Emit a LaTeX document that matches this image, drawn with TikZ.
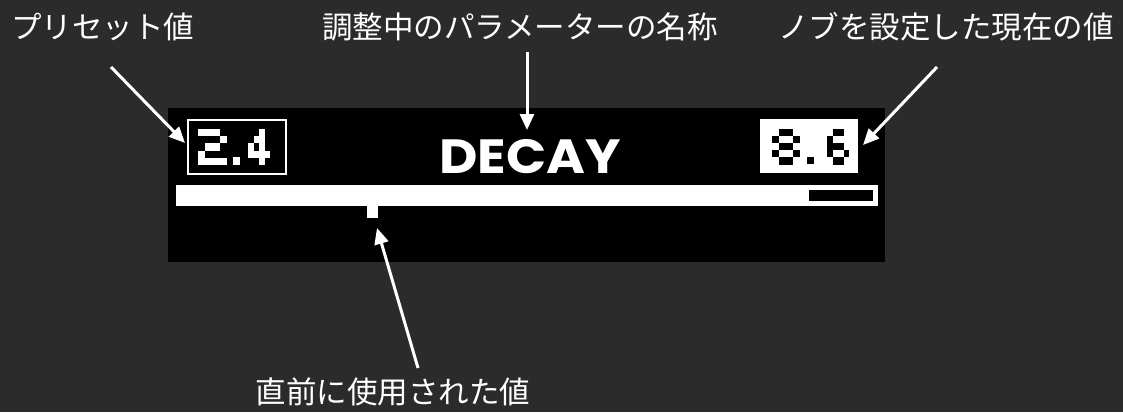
\documentclass[tikz,border=0pt]{standalone}
\usepackage{fontspec}
\usetikzlibrary{arrows.meta}
\newfontfamily\jpfont{Noto Sans CJK JP}
\newfontfamily\decayfont{Poppins}
\definecolor{bgc}{HTML}{2B2B2B}
\newcommand\pixglyph[5]{%
  \foreach \c/\r in {#5} {\fill (#1+\c*#3, #2+\r*#4) rectangle ++(#3,#4);}}
\tikzset{
  lbl/.style={text=white, font=\jpfont\fontsize{30.5}{36}\selectfont, inner sep=0pt},
  callout/.style={draw=white, line width=3pt, -{Triangle[length=16pt,width=14pt]}},
}
\begin{document}
\begin{tikzpicture}[x=1pt,y=-1pt]
\useasboundingbox (0,0) rectangle (1123,412);
\fill[bgc] (0,0) rectangle (1123,412);
% screen
\fill[black] (168,108) rectangle (885,262);
% preset box
\draw[white, line width=2pt] (188,120) rectangle (286,174);
\begin{scope}[white]
\pixglyph{198}{129}{7.25}{7.2}{0/0,1/0,2/0,3/1,1/2,2/2,0/3,0/4,1/4,2/4,3/4}
\fill (233,157) rectangle (240,165);
\pixglyph{248}{129}{5.5}{7.2}{2/0,1/1,2/1,0/2,2/2,0/3,1/3,2/3,3/3,2/4}
\end{scope}
% current value box
\fill[white] (760,119) rectangle (858,173);
\begin{scope}[black]
\pixglyph{772}{129}{7}{7.1}{1/0,2/0,0/1,3/1,1/2,2/2,0/3,3/3,1/4,2/4}
\fill (807,157) rectangle (814,164);
\pixglyph{827}{129}{5.5}{7.1}{1/0,2/0,0/1,0/2,1/2,2/2,0/3,3/3,1/4,2/4}
\end{scope}
% parameter name
\node[text=white, inner sep=0pt, anchor=base, xscale=1.1, font=\decayfont\bfseries\fontsize{48}{50}\selectfont] (decay) at (530,173) {DECAY};
% bar
\fill[white] (176,185) rectangle (878,206);
\fill[black] (809,190) rectangle (873,201);
% marker
\fill[white] (367,206) rectangle (378,218);
% labels
\node[lbl, anchor=base west] (lpreset) at (11,38) {プリセット値};
\node[lbl, anchor=base] (lname) at (520,38) {調整中のパラメーターの名称};
\node[lbl, anchor=base] (lcur) at (946,38) {ノブを設定した現在の値};
\node[lbl, anchor=base] (llast) at (393,403) {直前に使用された値};
% arrow ends
\coordinate (a1s) at (111,67);  \coordinate (a1e) at (185,143);
\coordinate (a2s) at (527,52);  \coordinate (a2e) at (527,130);
\coordinate (a3s) at (937,67);  \coordinate (a3e) at (863,145);
\coordinate (a4s) at (418,368); \coordinate (a4e) at (377,228);
\draw[callout] (a1s) -- (a1e);
\draw[callout] (a2s) -- (a2e);
\draw[callout] (a3s) -- (a3e);
\draw[callout] (a4s) -- (a4e);
\end{tikzpicture}
\end{document}
